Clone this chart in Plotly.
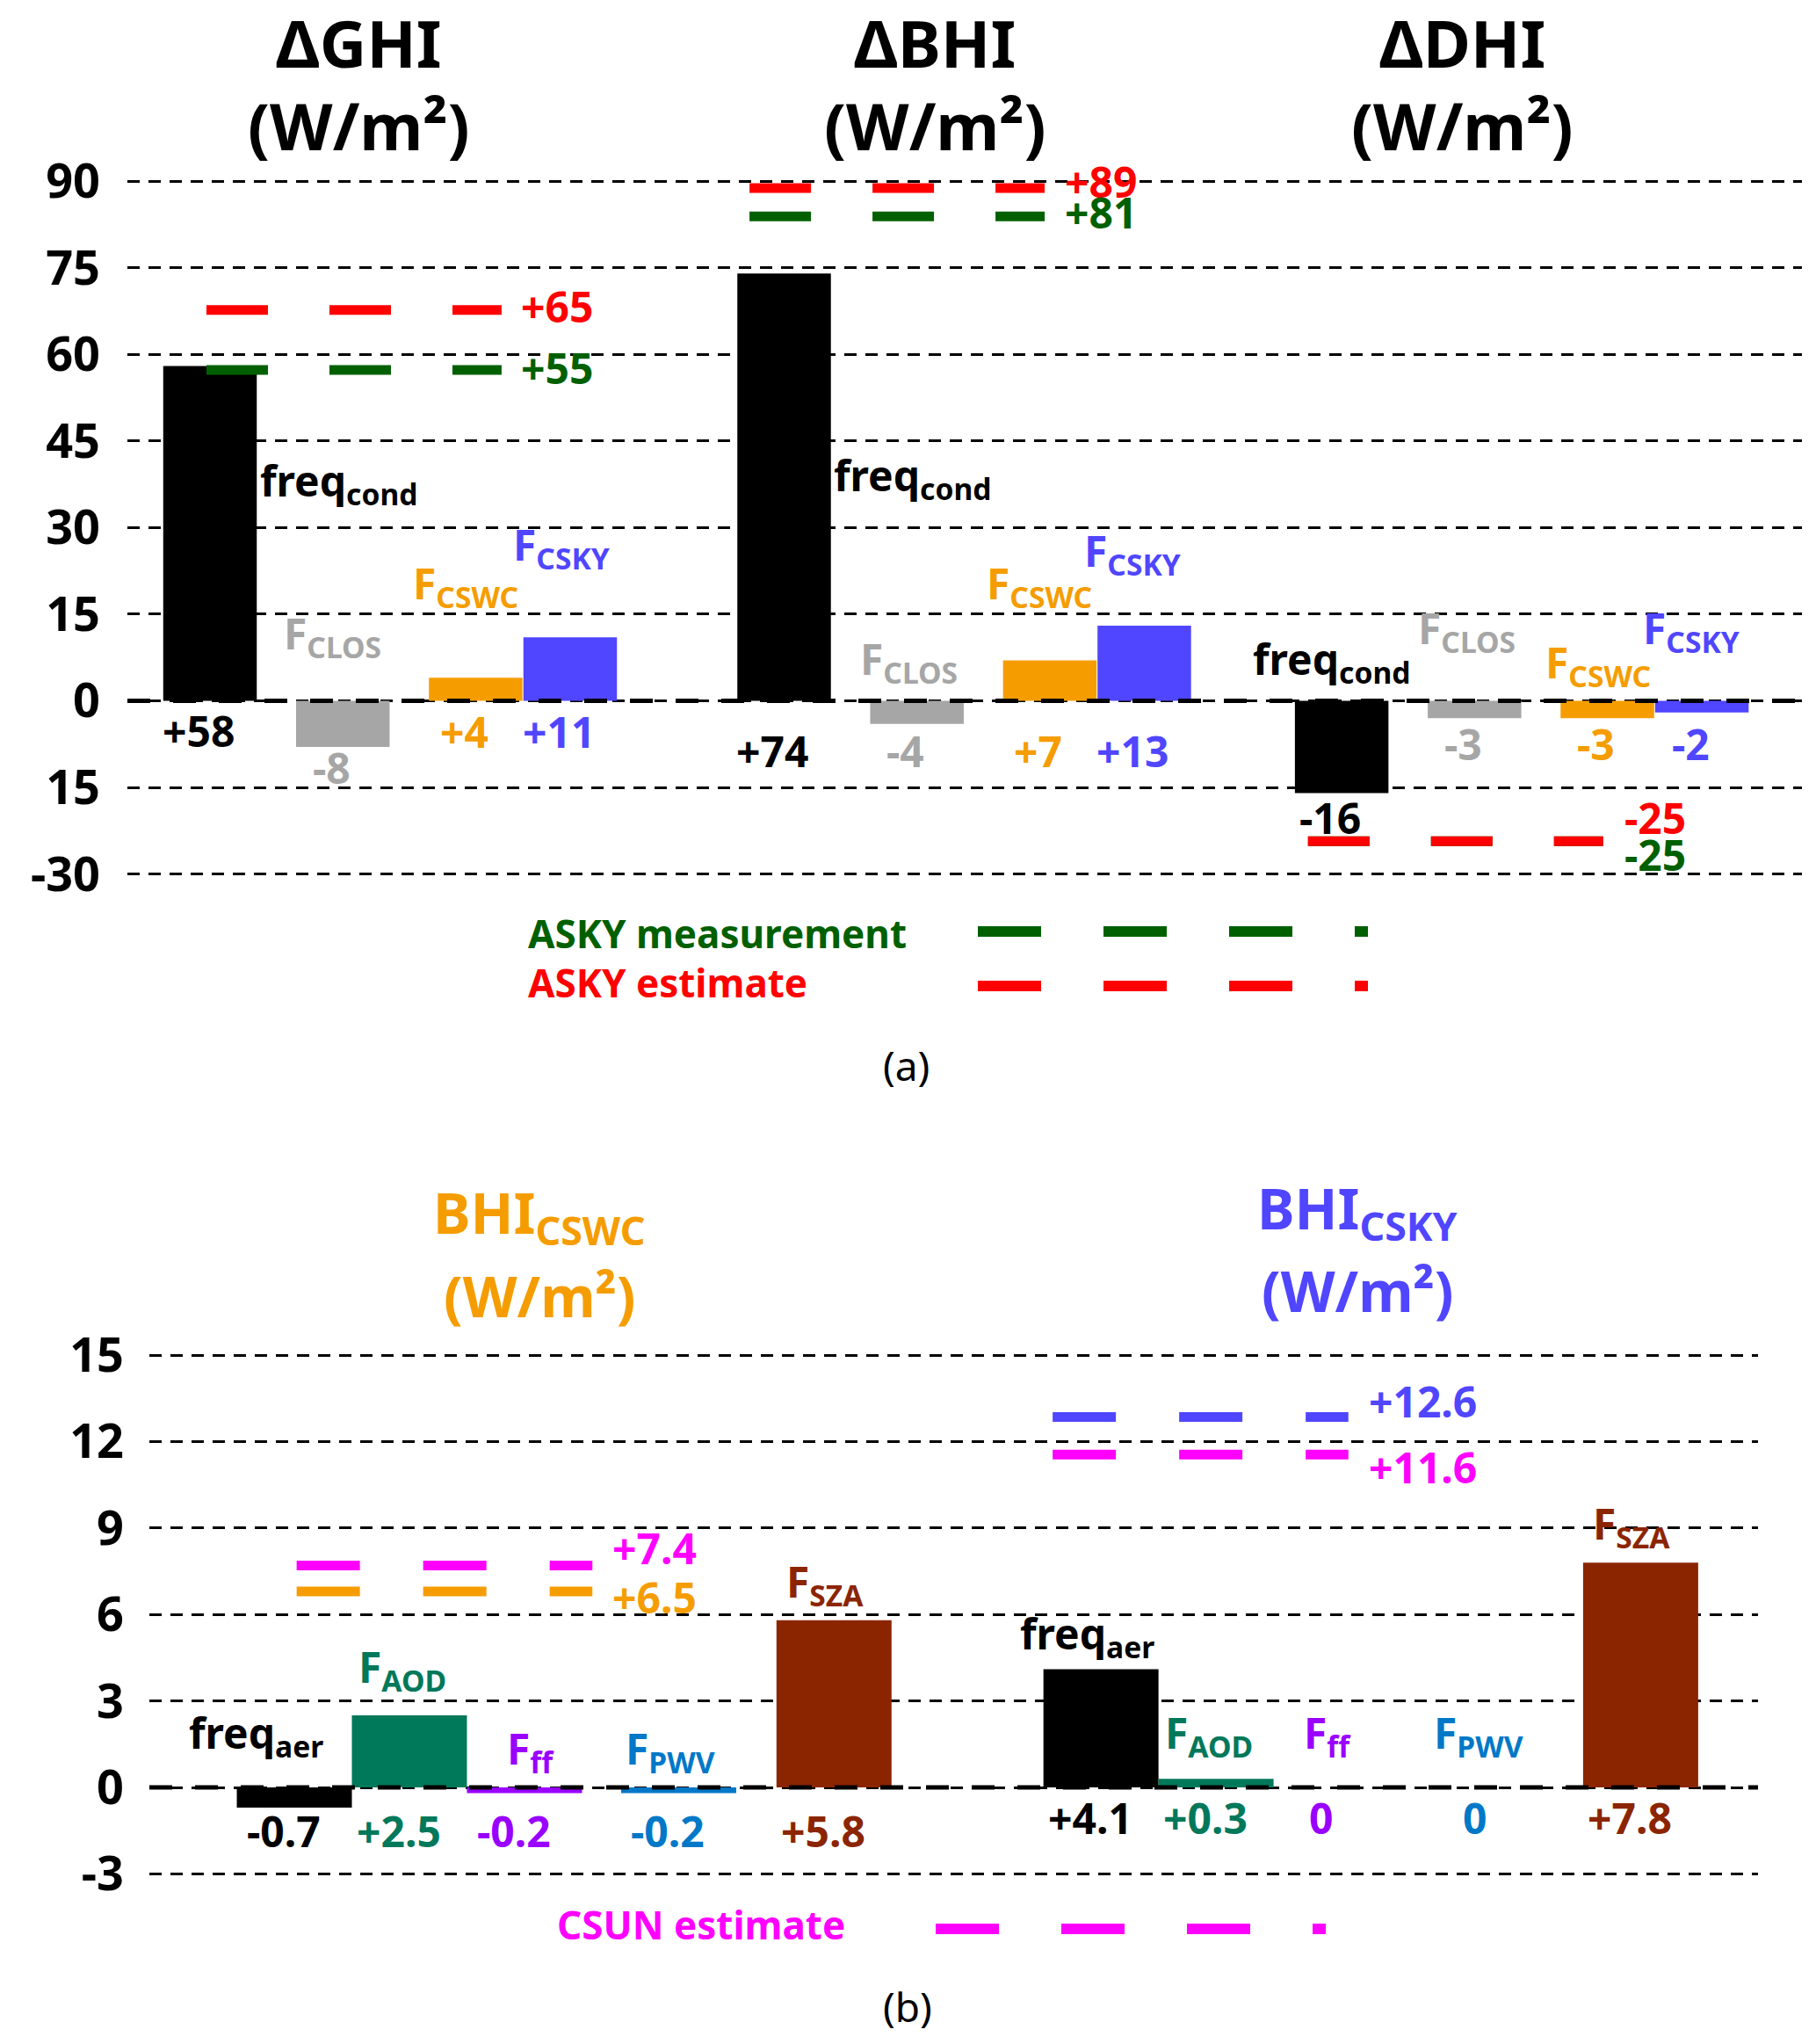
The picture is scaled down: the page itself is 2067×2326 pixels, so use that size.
import plotly.graph_objects as go

W, H = 2067, 2326
OFF = 8                      # page body margin
FW, FH = W - 2 * OFF, H - 2 * OFF
FONT = "Noto Sans"

# ---------------- data: panel (a) ----------------
titles_a = ["ΔGHI", "ΔBHI", "ΔDHI"]
terms_a = ["freq<sub>cond</sub>", "F<sub>CLOS</sub>", "F<sub>CSWC</sub>", "F<sub>CSKY</sub>"]
colors_a = ["#000000", "#A6A6A6", "#F59D00", "#5046FF"]
values_a = [[58, -8, 4, 11], [74, -4, 7, 13], [-16, -3, -3, -2]]
labels_a = [["+58", "-8", "+4", "+11"], ["+74", "-4", "+7", "+13"], ["-16", "-3", "-3", "-2"]]
asky_meas = [57.3, 83.9, -24.3]
asky_est = [67.7, 88.8, -24.3]
asky_meas_txt = ["+55", "+81", "-25"]
asky_est_txt = ["+65", "+89", "-25"]
ytick_a = [90, 75, 60, 45, 30, 15, 0, -15, -30]
ytext_a = ["90", "75", "60", "45", "30", "15", "0", "15", "-30"]

# ---------------- data: panel (b) ----------------
titles_b = ["BHI<sub>CSWC</sub>", "BHI<sub>CSKY</sub>"]
title_colors_b = ["#F59D00", "#5046FF"]
terms_b = ["freq<sub>aer</sub>", "F<sub>AOD</sub>", "F<sub>ff</sub>", "F<sub>PWV</sub>", "F<sub>SZA</sub>"]
colors_b = ["#000000", "#00785A", "#9900FF", "#0078C8", "#8B2500"]
values_b = [[-0.7, 2.5, -0.2, -0.2, 5.8], [4.1, 0.3, 0, 0, 7.8]]
labels_b = [["-0.7", "+2.5", "-0.2", "-0.2", "+5.8"], ["+4.1", "+0.3", "0", "0", "+7.8"]]
csun_est = [7.7, 11.55]
csun_txt = ["+7.4", "+11.6"]
ref_b = [6.8, 12.85]
ref_txt = ["+6.5", "+12.6"]
ytick_b = [15, 12, 9, 6, 3, 0, -3]
ytext_b = ["15", "12", "9", "6", "3", "0", "-3"]

# ---------------- layout helpers (pixel positions on the page) ----------------
def px(x, y):
    return (x - OFF) / FW, 1 - (y - OFF) / FH

def xdom(x0, x1):
    return [(x0 - OFF) / FW, (x1 - OFF) / FW]

def ydom(top, bottom):
    return [1 - (bottom - OFF) / FH, 1 - (top - OFF) / FH]

# panel a axis: zero at 797.5 px, 6.57 px per unit
ya_range = [-31, 91]
ya_dom = ydom(797.5 - 91 * 6.57, 797.5 + 31 * 6.57)
xa_range = [0, 17.9]
xa_dom = xdom(145, 2051)
group_x_a = [0.883, 7.02, 12.98]
slot_a = [0, 1.42, 2.84, 3.85]
val_y_a = [[-5.1, -11.6, -5.4, -5.4], [-8.7] * 4, [-20.2, -7.5, -7.5, -7.5]]
name_pos_a = [
    [(2.26, 37.8), (2.19, 11.2), (3.62, 20.0), (4.64, 26.7)],
    [(8.39, 38.7), (8.35, 6.9), (9.75, 20.0), (10.75, 25.5)],
    [(12.87, 6.9), (14.32, 12.1), (15.72, 6.2), (16.72, 12.1)],
]
line_x_a = [0.845, 6.65, 12.62]
line_len_a = 3.155
line_lbl_x_a = [4.19, 10.0, 15.98]
est_lbl_y_a = [68.3, 89.9, -20.3]
meas_lbl_y_a = [57.7, 84.7, -26.7]

# panel b axis: zero at 2034 px, 32.8 px per unit
yb_range = [-3.3, 15.3]
yb_dom = ydom(2034 - 15.3 * 32.8, 2034 + 3.3 * 32.8)
xb_range = [0, 13.98]
xb_dom = xdom(170, 2001)
group_x_b = [1.26, 8.27]
slot_b = [0, 1, 2, 3.34, 4.69]
val_y_b = [-1.5, -1.05]
name_pos_b = [
    [(0.93, 1.8), (2.2, 4.1), (3.31, 1.28), (4.53, 1.28), (5.87, 7.07)],
    [(8.15, 5.27), (9.21, 1.8), (10.24, 1.8), (11.55, 1.8), (12.88, 9.06)],
]
line_x_b = [1.28, 7.85]
line_len_b = 2.57
line_lbl_x_b = [4.01, 10.58]
est_lbl_y_b = [8.3, 11.1]
ref_lbl_y_b = [6.6, 13.4]

fig = go.Figure()
ann = []


def label(x, y, text, color, size=48, xref="x", yref="y", xanchor="center", xshift=0, bold=True):
    ann.append(dict(x=x, y=y, xref=xref, yref=yref, text=text, showarrow=False,
                    xanchor=xanchor, yanchor="middle", xshift=xshift,
                    font=dict(family=FONT, size=size, color=color,
                              weight="bold" if bold else "normal")))


# ---------- panel (a) bars ----------
xs, ys, cs = [], [], []
for g in range(3):
    for k in range(4):
        xs.append(group_x_a[g] + slot_a[k])
        ys.append(values_a[g][k])
        cs.append(colors_a[k])
        label(group_x_a[g] + slot_a[k], val_y_a[g][k], labels_a[g][k], colors_a[k], xshift=-13)
        label(name_pos_a[g][k][0], name_pos_a[g][k][1], terms_a[k], colors_a[k])
fig.add_trace(go.Bar(x=xs, y=ys, width=1, marker=dict(color=cs, line_width=0),
                     xaxis="x", yaxis="y", showlegend=False))

for g in range(3):
    x0 = line_x_a[g]
    fig.add_trace(go.Scatter(x=[x0, x0 + line_len_a], y=[asky_meas[g]] * 2, mode="lines",
                             line=dict(color="#006000", width=11, dash="70px,70px"),
                             xaxis="x", yaxis="y", showlegend=False))
    fig.add_trace(go.Scatter(x=[x0, x0 + line_len_a], y=[asky_est[g]] * 2, mode="lines",
                             line=dict(color="#FF0000", width=11, dash="70px,70px"),
                             xaxis="x", yaxis="y", showlegend=False))
    label(line_lbl_x_a[g], est_lbl_y_a[g], asky_est_txt[g], "#FF0000", xanchor="left")
    label(line_lbl_x_a[g], meas_lbl_y_a[g], asky_meas_txt[g], "#006000", xanchor="left")

# ---------- panel (b) bars ----------
xs, ys, cs = [], [], []
for g in range(2):
    for k in range(5):
        xs.append(group_x_b[g] + slot_b[k])
        ys.append(values_b[g][k])
        cs.append(colors_b[k])
        label(group_x_b[g] + slot_b[k], val_y_b[g], labels_b[g][k], colors_b[k],
              xref="x2", yref="y2", xshift=-12)
        label(name_pos_b[g][k][0], name_pos_b[g][k][1], terms_b[k], colors_b[k],
              xref="x2", yref="y2")
fig.add_trace(go.Bar(x=xs, y=ys, width=1, marker=dict(color=cs, line_width=0),
                     xaxis="x2", yaxis="y2", showlegend=False))

ref_colors_b = ["#F59D00", "#5046FF"]
for g in range(2):
    x0 = line_x_b[g]
    fig.add_trace(go.Scatter(x=[x0, x0 + line_len_b], y=[ref_b[g]] * 2, mode="lines",
                             line=dict(color=ref_colors_b[g], width=11, dash="72px,72px"),
                             xaxis="x2", yaxis="y2", showlegend=False))
    fig.add_trace(go.Scatter(x=[x0, x0 + line_len_b], y=[csun_est[g]] * 2, mode="lines",
                             line=dict(color="#FF00FF", width=11, dash="72px,72px"),
                             xaxis="x2", yaxis="y2", showlegend=False))
    label(line_lbl_x_b[g], est_lbl_y_b[g], csun_txt[g], "#FF00FF", xref="x2", yref="y2", xanchor="left")
    label(line_lbl_x_b[g], ref_lbl_y_b[g], ref_txt[g], ref_colors_b[g], xref="x2", yref="y2", xanchor="left")

# ---------- titles ----------
for cx, t in zip([408, 1064, 1664], titles_a):
    x, y = px(cx, 49)
    label(x, y, t, "#000000", size=74, xref="paper", yref="paper")
    x, y = px(cx, 142)
    label(x, y, "(W/m²)", "#000000", size=74, xref="paper", yref="paper")
for cx, y1, y2, t, c in zip([614, 1545], [1383, 1378], [1474, 1468], titles_b, title_colors_b):
    x, y = px(cx, y1)
    label(x, y, t, c, size=64, xref="paper", yref="paper")
    x, y = px(cx, y2)
    label(x, y, "(W/m²)", c, size=64, xref="paper", yref="paper")

# ---------- legend-like keys ----------
x, y = px(599, 1062)
label(x, y, "ASKY measurement", "#006000", size=44, xref="paper", yref="paper", xanchor="left")
x, y = px(599, 1118)
label(x, y, "ASKY estimate", "#FF0000", size=44, xref="paper", yref="paper", xanchor="left")
x, y = px(632, 2190)
label(x, y, "CSUN estimate", "#FF00FF", size=44, xref="paper", yref="paper", xanchor="left")
x, y = px(1031, 1212)
label(x, y, "(a)", "#000000", size=46, xref="paper", yref="paper", bold=False)
x, y = px(1033, 2283)
label(x, y, "(b)", "#000000", size=46, xref="paper", yref="paper", bold=False)

shapes = []
for (x0, x1, yy, c) in [(1113, 1557, 1060, "#006000"), (1113, 1557, 1122, "#FF0000"),
                        (1065, 1509, 2195, "#FF00FF")]:
    a0, b0 = px(x0, yy)
    a1, _ = px(x1, yy)
    shapes.append(dict(type="line", xref="paper", yref="paper", x0=a0, x1=a1, y0=b0, y1=b0,
                       line=dict(color=c, width=12, dash="72px,71px")))

# zero lines on top of bars
shapes.append(dict(type="line", xref="paper", yref="y", x0=xa_dom[0], x1=xa_dom[1], y0=0, y1=0,
                   layer="above", line=dict(color="black", width=5, dash="26px,26px")))
shapes.append(dict(type="line", xref="paper", yref="y2", x0=xb_dom[0], x1=xb_dom[1], y0=0, y1=0,
                   layer="above", line=dict(color="black", width=5, dash="26px,26px")))

tickfont = dict(family=FONT, size=54, color="black", weight="bold")
fig.update_layout(
    width=FW, height=FH, margin=dict(l=0, r=0, t=0, b=0, autoexpand=False),
    paper_bgcolor="white", plot_bgcolor="white", barmode="overlay",
    annotations=ann, shapes=shapes,
    xaxis=dict(domain=xa_dom, range=xa_range, visible=False, anchor="y"),
    yaxis=dict(domain=ya_dom, range=ya_range, anchor="x", tickvals=ytick_a, ticktext=ytext_a,
               showgrid=True, gridcolor="black", gridwidth=2.5, griddash="14px,10px",
               zeroline=False, showline=False, ticks="", tickfont=tickfont,
               ticklabelstandoff=30, automargin=False),
    xaxis2=dict(domain=xb_dom, range=xb_range, visible=False, anchor="y2"),
    yaxis2=dict(domain=yb_dom, range=yb_range, anchor="x2", tickvals=ytick_b, ticktext=ytext_b,
                showgrid=True, gridcolor="black", gridwidth=2.5, griddash="14px,10px",
                zeroline=False, showline=False, ticks="", tickfont=tickfont,
                ticklabelstandoff=28, automargin=False),
)

fig.write_html("out.html")
